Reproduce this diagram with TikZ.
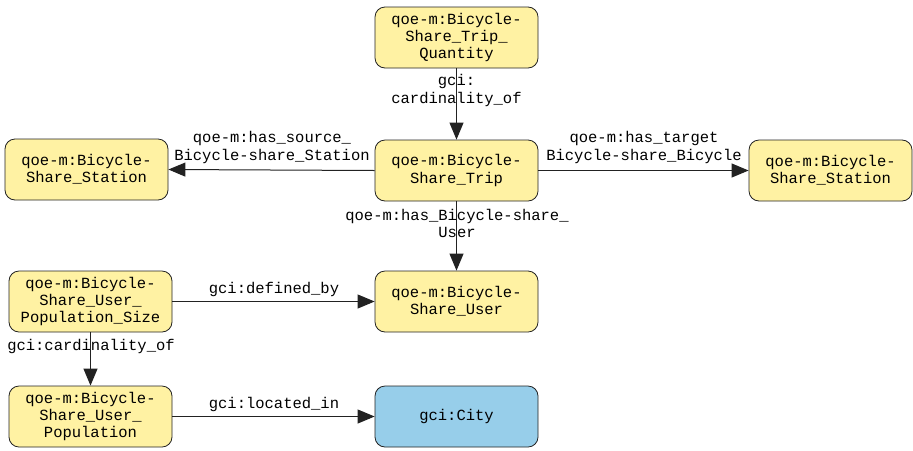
\documentclass[tikz,border=0pt]{standalone}
\usepackage{fontspec}
\setmonofont{Liberation Mono}
\usepackage{tikz}
\usetikzlibrary{arrows.meta}

\definecolor{classyellow}{HTML}{FFF2A3}
\definecolor{classblue}{HTML}{97CEEA}
\definecolor{borderline}{HTML}{222222}

\tikzset{
  class/.style={draw=borderline, fill=classyellow, rounded corners=5pt,
    minimum width=81.5pt, minimum height=30.5pt, inner sep=0pt,
    align=center, font=\ttfamily\fontsize{7.75}{8.7}\selectfont},
  rel/.style={draw=borderline, line width=0.5pt, -{Triangle[length=8.5pt,width=7pt]}},
  lbl/.style={font=\ttfamily\fontsize{7.75}{8.7}\selectfont, align=center, inner sep=0pt}
}

\begin{document}
\begin{tikzpicture}[x=0.5pt, y=-0.5pt]
  \useasboundingbox (0, 0) rectangle (913, 450);

  % classes
    \node[class] at (456.5, 37.5) (qty) {qoe-m:Bicycle-\\Share\_Trip\_\\Quantity};
    \node[class] at (456.5, 170.5) (trip) {qoe-m:Bicycle-\\Share\_Trip};
    \node[class] at (86.5, 169.5) (srcst) {qoe-m:Bicycle-\\Share\_Station};
    \node[class] at (830.5, 170.5) (tgtst) {qoe-m:Bicycle-\\Share\_Station};
    \node[class] at (456.5, 301.5) (user) {qoe-m:Bicycle-\\Share\_User};
    \node[class] at (90.5, 301.5) (popsize) {qoe-m:Bicycle-\\Share\_User\_\\Population\_Size};
    \node[class] at (90.5, 416.5) (pop) {qoe-m:Bicycle-\\Share\_User\_\\Population};
    \node[class, fill=classblue] at (456.5, 416.5) (city) {gci:City};

  % relations
    \draw[rel] (qty) -- (trip);
    \node[lbl] at (456.5, 90.5) {gci:\\cardinality\_of};

    \draw[rel] (trip.west) -- (srcst.east);
    \node[lbl] at (272, 147.5) {qoe-m:has\_source\_\\Bicycle-share\_Station};

    \draw[rel] (trip.east) -- (tgtst.west);
    \node[lbl] at (644, 147.5) {qoe-m:has\_target\\Bicycle-share\_Bicycle};

    \draw[rel] (trip) -- (user);
    \node[lbl] at (457, 223.5) {qoe-m:has\_Bicycle-share\_\\User};

    \draw[rel] (popsize) -- (user);
    \node[lbl] at (274, 289) {gci:defined\_by};

    \draw[rel] (popsize) -- (pop);
    \node[lbl] at (91, 346) {gci:cardinality\_of};

    \draw[rel] (pop) -- (city);
    \node[lbl] at (274, 404) {gci:located\_in};
\end{tikzpicture}
\end{document}
